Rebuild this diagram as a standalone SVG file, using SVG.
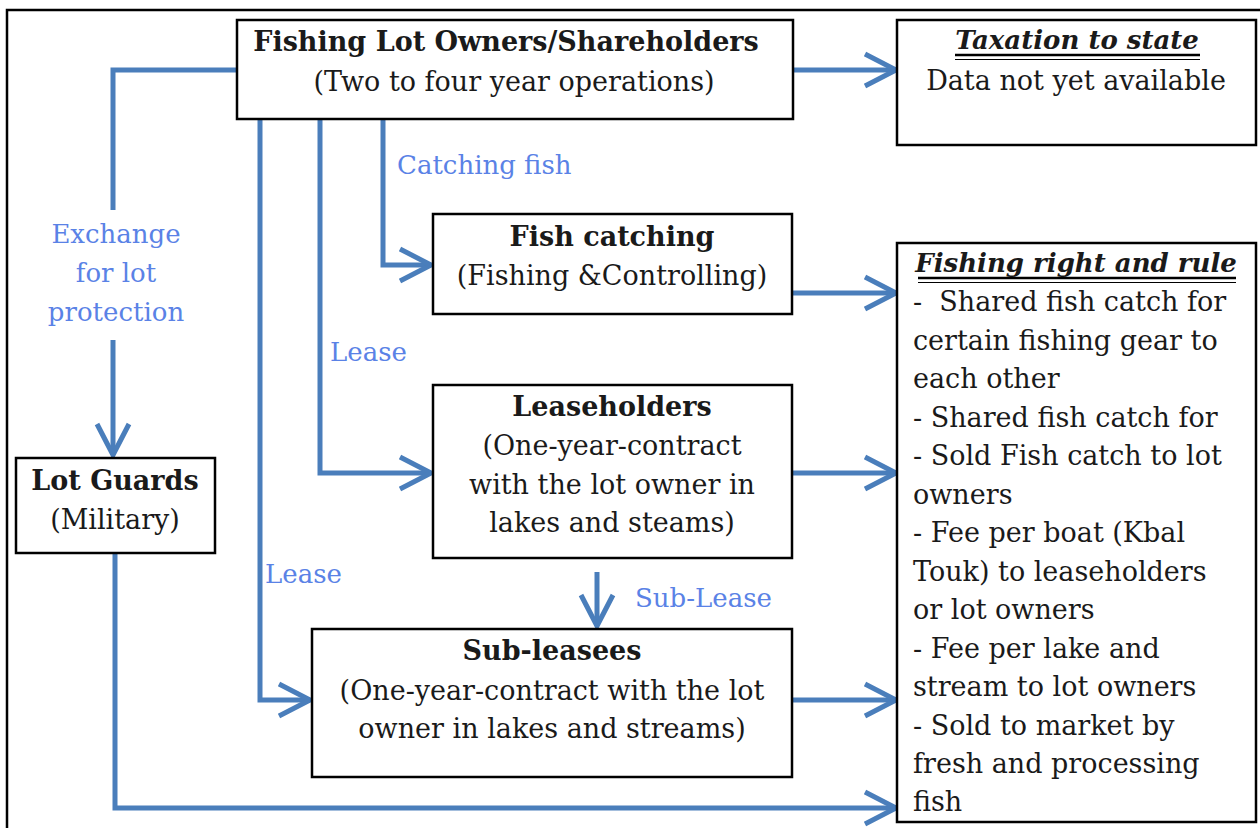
<svg xmlns="http://www.w3.org/2000/svg" width="1260" height="828" viewBox="0 0 1260 828">
<defs>
<style>
.box{fill:#fff;stroke:#000;stroke-width:2.5}
.t{font-family:"DejaVu Serif","Liberation Serif",serif;font-size:27px;fill:#1a1a1a;text-anchor:middle}
.b{font-weight:bold}
.bi{font-weight:bold;font-style:italic;font-size:26px}
.l{font-family:"DejaVu Serif","Liberation Serif",serif;font-size:27px;fill:#1a1a1a}
.lab{font-family:"DejaVu Serif","Liberation Serif",serif;font-size:26px;fill:#5a82e6}
.c{fill:none;stroke:#4a7ebb;stroke-width:5;stroke-linejoin:miter}
.ul{stroke:#000}
</style>
<marker id="ah" markerUnits="userSpaceOnUse" viewBox="-34 -20 38 40" refX="0" refY="0" markerWidth="38" markerHeight="40" orient="auto">
<path d="M-31,-16 L0,0 L-31,16" fill="none" stroke="#4a7ebb" stroke-width="5"/>
</marker>
</defs>
<rect width="1260" height="828" fill="#fff"/>
<rect x="7" y="10" width="1270" height="840" fill="none" stroke="#000" stroke-width="2.5"/>

<g id="connectors">
<path class="c" d="M237,70 H113 V210"/>
<path class="c" d="M113,340 V455" marker-end="url(#ah)"/>
<path class="c" d="M793,70 H896" marker-end="url(#ah)"/>
<path class="c" d="M383,119 V265 H431" marker-end="url(#ah)"/>
<path class="c" d="M320,119 V473 H431" marker-end="url(#ah)"/>
<path class="c" d="M260,119 V700 H310" marker-end="url(#ah)"/>
<path class="c" d="M792,293 H896" marker-end="url(#ah)"/>
<path class="c" d="M792,473 H896" marker-end="url(#ah)"/>
<path class="c" d="M792,700 H896" marker-end="url(#ah)"/>
<path class="c" d="M597,572 V626" marker-end="url(#ah)"/>
<path class="c" d="M115,553 V808 H896" marker-end="url(#ah)"/>
<text class="lab" x="397" y="174">Catching fish</text>
<text class="lab" x="330" y="361">Lease</text>
<text class="lab" x="265" y="583">Lease</text>
<text class="lab" x="635" y="607">Sub-Lease</text>
<text class="lab" x="116" y="243" text-anchor="middle">Exchange</text>
<text class="lab" x="116" y="282" text-anchor="middle">for lot</text>
<text class="lab" x="116" y="321" text-anchor="middle">protection</text>
</g>

<g id="owners">
<rect class="box" x="237" y="20" width="556" height="99"/>
<text class="t b" x="506" y="51">Fishing Lot Owners/Shareholders</text>
<text class="t" x="514" y="91">(Two to four year operations)</text>
</g>

<g id="taxation">
<rect class="box" x="897" y="20" width="359" height="125"/>
<text class="t bi" x="1077" y="49">Taxation to state</text>
<line class="ul" x1="955" y1="55" x2="1200" y2="55" stroke-width="2.5"/>
<line class="ul" x1="955" y1="59.5" x2="1200" y2="59.5" stroke-width="1.2"/>
<text class="t" x="1076" y="90">Data not yet available</text>
</g>

<g id="fishcatching">
<rect class="box" x="433" y="214" width="359" height="100"/>
<text class="t b" x="612" y="246">Fish catching</text>
<text class="t" x="612" y="285">(Fishing &amp;Controlling)</text>
</g>

<g id="leaseholders">
<rect class="box" x="433" y="385" width="359" height="173"/>
<text class="t b" x="612" y="416">Leaseholders</text>
<text class="t" x="612" y="455">(One-year-contract</text>
<text class="t" x="612" y="494">with the lot owner in</text>
<text class="t" x="612" y="532">lakes and steams)</text>
</g>

<g id="subleasees">
<rect class="box" x="312" y="629" width="480" height="148"/>
<text class="t b" x="552" y="660">Sub-leasees</text>
<text class="t" x="552" y="700">(One-year-contract with the lot</text>
<text class="t" x="552" y="738">owner in lakes and streams)</text>
</g>

<g id="lotguards">
<rect class="box" x="16" y="458" width="199" height="95"/>
<text class="t b" x="115" y="490">Lot Guards</text>
<text class="t" x="115" y="529">(Military)</text>
</g>

<g id="rules">
<rect class="box" x="897" y="243" width="359" height="579"/>
<text class="t bi" x="1076" y="272">Fishing right and rule</text>
<line class="ul" x1="918" y1="278" x2="1236" y2="278" stroke-width="2.5"/>
<line class="ul" x1="918" y1="282.5" x2="1236" y2="282.5" stroke-width="1.2"/>
<text class="l" x="913" y="311" xml:space="preserve">-  Shared fish catch for</text>
<text class="l" x="913" y="350">certain fishing gear to</text>
<text class="l" x="913" y="388">each other</text>
<text class="l" x="913" y="427">- Shared fish catch for</text>
<text class="l" x="913" y="465">- Sold Fish catch to lot</text>
<text class="l" x="913" y="504">owners</text>
<text class="l" x="913" y="542">- Fee per boat (Kbal</text>
<text class="l" x="913" y="581">Touk) to leaseholders</text>
<text class="l" x="913" y="619">or lot owners</text>
<text class="l" x="913" y="658">- Fee per lake and</text>
<text class="l" x="913" y="696">stream to lot owners</text>
<text class="l" x="913" y="735">- Sold to market by</text>
<text class="l" x="913" y="773">fresh and processing</text>
<text class="l" x="913" y="811">fish</text>
</g>
</svg>
